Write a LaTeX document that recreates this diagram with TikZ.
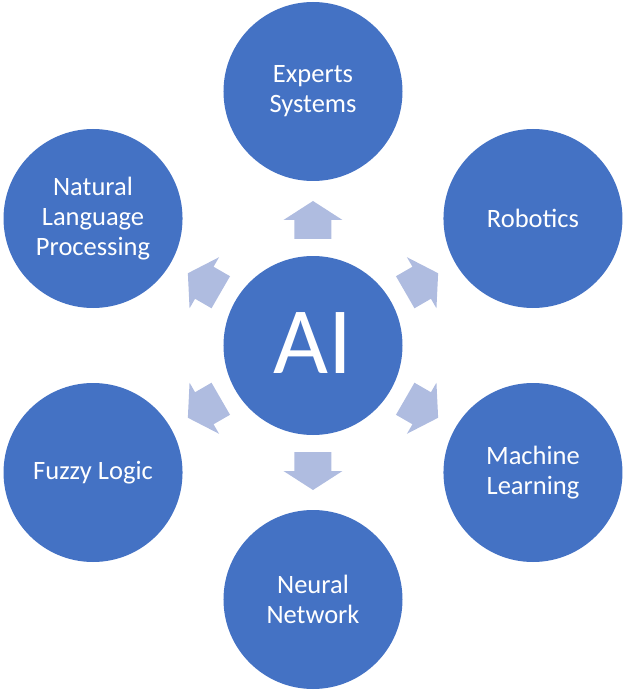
\documentclass[tikz,border=0pt]{standalone}
\usepackage{fontspec}
\setmainfont{Carlito}
\definecolor{circblue}{HTML}{4472C4}
\definecolor{arrblue}{HTML}{AFBCE0}
\tikzset{
  topic/.style={circle, fill=circblue, minimum size=179pt, inner sep=0pt,
    text=white, align=center, font=\fontsize{26.5}{30}\selectfont},
  blockarrow/.style={fill=arrblue}
}
\begin{document}
\begin{tikzpicture}
    \useasboundingbox (-313pt,-345.5pt) rectangle (314pt,345.5pt);
    \node[topic, font=\fontsize{95}{100}\selectfont] (ai) at (0,0) {\raisebox{4pt}{AI}};
    \node[topic] (es) at (90:254pt) {Experts\\Systems};
    \node[topic] (rob) at (30:254pt) {Robotics};
    \node[topic] (ml) at (-30:254pt) {Machine\\Learning};
    \node[topic] (nn) at (-90:254pt) {Neural\\Network};
    \node[topic] (fl) at (-150:254pt) {Fuzzy Logic};
    \node[topic] (nlp) at (150:254pt) {Natural\\Language\\Processing};
    % block arrows from the centre out to each topic
    \foreach \n/\a in {es/90, rob/30, ml/-30, nn/-90, fl/-150, nlp/150}
        \fill[blockarrow, shift={(ai.center)}, rotate=\a]
            (106.5pt,-18.5pt) -- (125.5pt,-18.5pt) -- (125.5pt,-29.5pt)
            -- (144.5pt,0pt) -- (125.5pt,29.5pt) -- (125.5pt,18.5pt)
            -- (106.5pt,18.5pt) -- cycle;
\end{tikzpicture}
\end{document}
